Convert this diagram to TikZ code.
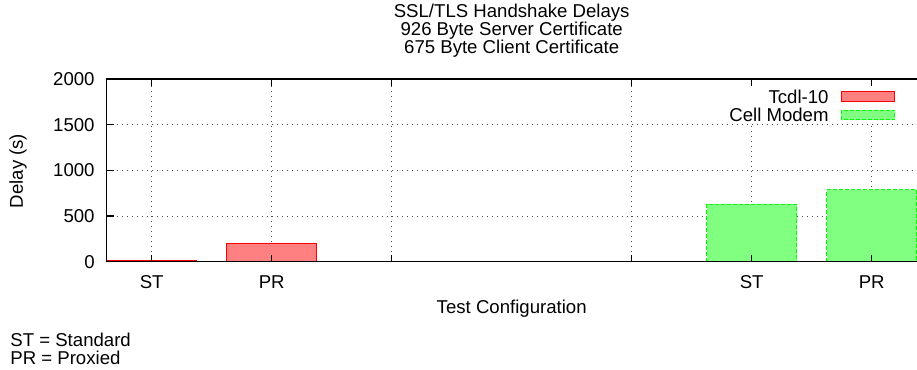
\documentclass[tikz,border=0pt]{standalone}
\usepackage{fontspec}
\setmainfont{Liberation Sans}
\usetikzlibrary{positioning}

\tikzset{
	gridline/.style={dotted, gray!60!black, line width=0.5pt},
	frameline/.style={line width=0.75pt},
	tcdlbar/.style={draw=red, fill=red!50, line width=0.5pt},
	cellbar/.style={draw=green, fill=green!50, line width=0.5pt, dash pattern=on 2pt off 1pt},
	lbl/.style={inner sep=0pt},
}

\begin{document}
\begin{tikzpicture}[x=60pt, y=0.045675pt, font=\fontsize{9.3}{9}\selectfont]
	\useasboundingbox (-75.85pt,-54.15pt) rectangle (382.65pt,130.85pt);
	% grid
	\foreach \Y in {500,1000,1500}
		\draw[gridline] (-0.375,\Y) -- (6.38,\Y);
	\foreach \X in {0,1,2,4,5,6}
		\draw[gridline] (\X,0) -- (\X,2000);
	% key background
	\fill[white] (4.75,1530) rectangle (6.32,1945);
	% bars
	\foreach \X/\V in {0/18, 1/195}
		\draw[tcdlbar] (\X-0.375,0) rectangle (\X+0.375,\V);
	\foreach \X/\V in {5/628, 6/785}
		\draw[cellbar] (\X-0.375,0) rectangle (\X+0.375,\V);
	% frame and ticks
	\draw[frameline] (-0.375,0) rectangle (6.38,2000);
	\foreach \X in {0,1,2,4,5,6} {
		\draw[frameline] (\X,0) -- ++(0,3.5pt);
		\draw[frameline] (\X,2000) -- ++(0,-3.5pt);
	}
	\foreach \Y in {0,500,1000,1500,2000} {
		\draw[frameline] (-0.375,\Y) -- ++(3.5pt,0);
		\node[lbl, anchor=east] (ytick\Y) at ([xshift=-5.85pt]-0.375,\Y) {\Y};
	}
	% category labels
	\foreach \X/\T in {0/ST, 1/PR, 5/ST, 6/PR}
		\node[lbl] (xtick\X) at (\X,-219) {\T};
	% axis titles
	\node[lbl, rotate=90] (ylabel) at (-1.114,993) {Delay (s)};
	\node[lbl] (xlabel) at (3,-518) {Test Configuration};
	\node[lbl, align=center] (title) at (3,2526)
		{SSL/TLS Handshake Delays\\926 Byte Server Certificate\\675 Byte Client Certificate};
	% key
	\node[lbl, anchor=east] (keytcdl) at (5.644,1806) {Tcdl-10};
	\node[lbl, anchor=east] (keycell) at (5.644,1606) {Cell Modem};
	\draw[tcdlbar] (5.747,1751) rectangle (6.192,1861);
	\draw[cellbar] (5.747,1553) rectangle (6.192,1659);
	% footnote
	\node[lbl, anchor=west] (notest) at (-1.181,-857) {ST = Standard};
	\node[lbl, anchor=west] (notepr) at (-1.181,-1051) {PR = Proxied};
\end{tikzpicture}
\end{document}
